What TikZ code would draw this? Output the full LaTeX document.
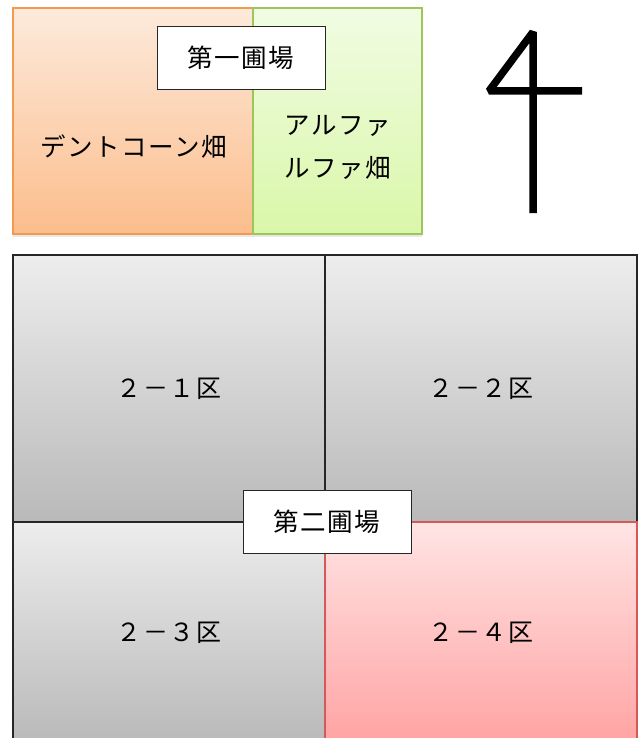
\documentclass[tikz,border=0pt]{standalone}
\usepackage{fontspec}
\newfontfamily\jp[LetterSpace=6]{Noto Sans CJK JP}
\usetikzlibrary{shadows}
\definecolor{orgtop}{HTML}{FDEADB}
\definecolor{orgbot}{HTML}{FBBD8C}
\definecolor{orgline}{HTML}{F39A4F}
\definecolor{grntop}{HTML}{F1FCE3}
\definecolor{grnbot}{HTML}{D9F7A9}
\definecolor{grnline}{HTML}{9DC55A}
\definecolor{gtop}{HTML}{EDEDED}
\definecolor{gbot}{HTML}{B9B9B9}
\definecolor{rtop}{HTML}{FFE4E4}
\definecolor{rbot}{HTML}{FFA3A3}
\definecolor{rline}{HTML}{D45A5A}
\tikzset{
  jptext/.style={font=\jp\fontsize{25.5}{30}\selectfont, inner sep=0pt},
  field/.style={rectangle, inner sep=0pt, line width=1.6pt,
    drop shadow={shadow xshift=0pt, shadow yshift=-3pt, opacity=0.18}},
  cell/.style={rectangle, inner sep=0pt, draw=black!85, line width=1.3pt,
    top color=gtop, bottom color=gbot, minimum width=312pt,
    font=\jp\fontsize{25}{30}\selectfont},
  labelbox/.style={rectangle, draw=black!85, fill=white, line width=0.9pt,
    minimum width=168pt, minimum height=63pt, inner sep=0pt,
    font=\jp\fontsize{25.5}{30}\selectfont},
}
\begin{document}
\begin{tikzpicture}[x=1pt,y=-1pt]
\useasboundingbox (0,0) rectangle (638,738);
\fill[white] (0,0) rectangle (638,738);
% first field
\node[field, draw=orgline, top color=orgtop, bottom color=orgbot,
  minimum width=240pt, minimum height=226pt] (dent) at (133,121) {};
\node[field, draw=grnline, top color=grntop, bottom color=grnbot,
  minimum width=169pt, minimum height=226pt] (alfa) at (337.5,121) {};
\node[jptext] (denttext) at (134,147) {デントコーン畑};
\node[jptext, align=center] (alfatext) at (338,147) {アルファ\\[13pt]ルファ畑};
\node[labelbox] (lab1) at (241,57.5) {第一圃場};
% north arrow "4"
\coordinate (n1) at (582,91);
\coordinate (n2) at (489,91);
\coordinate (n3) at (533,32);
\coordinate (n4) at (533,213);
\draw[black, line width=7.5pt, line join=bevel] (n1) -- (n2) -- (n3) -- (n4);
% second field
\node[cell, minimum height=267pt] (c1) at (169,388.5) {２－１区};
\node[cell, minimum height=267pt] (c2) at (481,388.5) {２－２区};
\node[cell, minimum height=222pt] (c3) at (169,633) {２－３区};
\node[cell, minimum height=222pt, draw=rline, top color=rtop, bottom color=rbot] (c4) at (481,633) {２－４区};
\draw[black!85, line width=1.3pt] (c1.south east) -- (c1.north east);
\node[labelbox] (lab2) at (327,521.5) {第二圃場};
\end{tikzpicture}
\end{document}
